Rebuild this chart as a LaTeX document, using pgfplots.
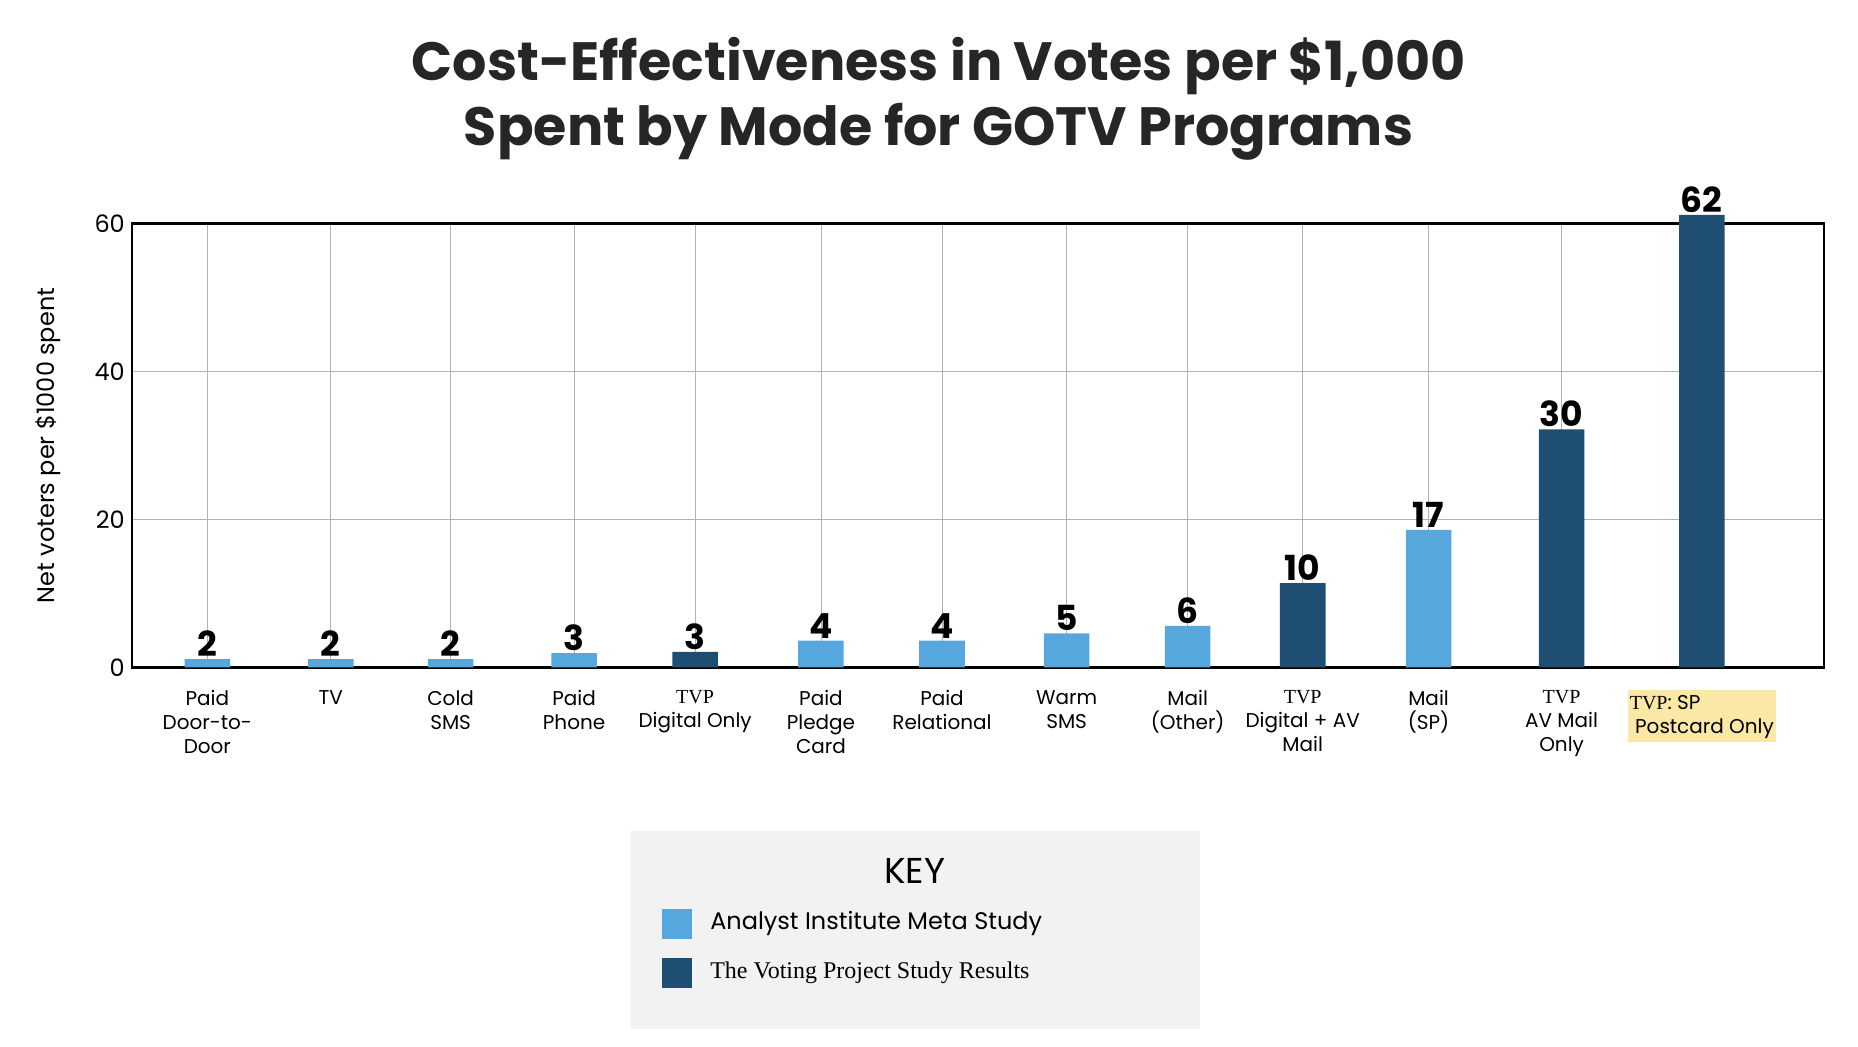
\documentclass[border=0pt]{standalone}
\usepackage{pgfplots}
\pgfplotsset{compat=1.18}
\usepackage{fontspec}
\setmainfont{Lato}
\newfontfamily\pop{Poppins}
\newfontfamily\ser{Liberation Serif}
\definecolor{lb}{HTML}{55A7DD}
\definecolor{db}{HTML}{1F4E73}
\definecolor{hl}{HTML}{FBE7A6}
\begin{document}
\begin{tikzpicture}[x=1pt,y=1pt]
\path (-66,-190) rectangle (864,334);
\begin{axis}[at={(0,0)},anchor=south west,scale only axis,
 width=847pt,height=222pt,xmin=110,xmax=1522,ymin=0,ymax=60,
 ytick={0,20,40,60},
 yticklabel style={font=\large\pop,/pgf/number format/assume math mode=true},
 ylabel={Net voters per \$1000 spent},ylabel style={font=\large\pop,at={(-0.038,0.5)}},
 xtick={173,276,376,479,580,685,786,890,991,1087,1192,1303,1420},
 xticklabels={Paid\\Door-to-\\Door,TV,Cold\\SMS,Paid\\Phone,{\ser TVP}\\Digital Only,Paid\\Pledge\\Card,Paid\\Relational,Warm\\SMS,Mail\\(Other),{\ser TVP}\\Digital + AV\\Mail,Mail\\(SP),{\ser TVP}\\AV Mail\\Only,{\setlength{\fboxsep}{1pt}\colorbox{hl}{\begin{tabular}{@{}l@{}}{\ser TVP}: SP\\\ Postcard Only\end{tabular}}}},
 xticklabel style={font=\pop,align=center,yshift=-8pt},
 major tick length=0pt,
 grid=major,grid style={gray!60},
 axis line style={line width=1.3pt},
 ybar,bar width=22.8pt,bar shift=0pt,
 nodes near coords,point meta=explicit symbolic,
 every node near coord/.style={font=\pop\bfseries\LARGE,inner sep=1pt},
 clip=false]
\addplot[draw=none,fill=lb] coordinates {(173,1.1)[2] (276,1.1)[2] (376,1.1)[2] (479,1.9)[3] (685,3.6)[4] (786,3.6)[4] (890,4.6)[5] (991,5.6)[6] (1192,18.6)[17]};
\addplot[draw=none,fill=db] coordinates {(580,2.1)[3] (1087,11.4)[10] (1303,32.2)[30] (1420,61.2)[62]};
\end{axis}
\node[font=\pop\bfseries\fontsize{27}{30}\selectfont,text=black!85] at (403.8,301) {Cost-Effectiveness in Votes per \$1,000};
\node[font=\pop\bfseries\fontsize{27}{30}\selectfont,text=black!85] at (403.8,268) {Spent by Mode for GOTV Programs};
\fill[gray!10] (249.6,-82) rectangle (534.6,-181);
\node[font=\pop\fontsize{18}{20}\selectfont] at (391.8,-102) {KEY};
\fill[lb] (265.5,-120.9) rectangle (280.5,-135.9);
\fill[db] (265.5,-145.5) rectangle (280.5,-160.5);
\node[anchor=west,font=\pop\large] at (286,-128.4) {Analyst Institute Meta Study};
\node[anchor=west,font=\ser\large] at (286,-153) {The Voting Project Study Results};
\end{tikzpicture}
\end{document}
